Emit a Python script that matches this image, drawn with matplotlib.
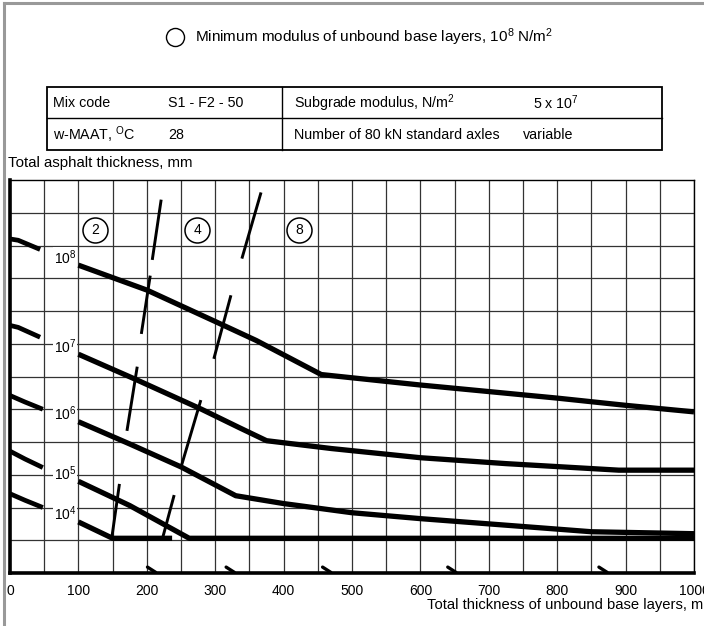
import numpy as np
import matplotlib.pyplot as plt
from matplotlib.patches import Rectangle

plt.rcParams['font.family'] = ['Liberation Sans', 'DejaVu Sans']
plt.rcParams['mathtext.fontset'] = 'custom'
plt.rcParams['mathtext.rm'] = 'Liberation Sans'
plt.rcParams['mathtext.it'] = 'Liberation Sans'

# -----------------------------
# Data (mm)
# -----------------------------
axle_labels = ["10$^8$", "10$^7$", "10$^6$", "10$^5$", "10$^4$"]

# base thickness -> asphalt thickness, one curve per number of axles
base_1e8 = [100, 200, 300, 360, 455, 600, 700, 800, 900, 1000]
asph_1e8 = [470, 432, 384, 355, 303, 287, 277, 267, 256, 246]
base_1e7 = [100, 185, 280, 335, 375, 470, 600, 725, 890, 1000]
asph_1e7 = [334, 295, 250, 222, 202, 190, 176, 167, 157, 157]
base_1e6 = [100, 175, 250, 330, 400, 500, 600, 725, 850, 1000]
asph_1e6 = [231, 197, 162, 118, 106, 92, 83, 73, 63, 60]
base_1e5 = [100, 175, 262, 1000]
asph_1e5 = [140, 103, 53, 53]
base_1e4 = [100, 150, 237]
asph_1e4 = [78, 53, 53]

curves_x = [base_1e8, base_1e7, base_1e6, base_1e5, base_1e4]
curves_y = [asph_1e8, asph_1e7, asph_1e6, asph_1e5, asph_1e4]

# stubs at the left edge (continuation from previous chart)
stub_x = [[0, 12, 44], [0, 12, 44], [0, 22, 48], [0, 22, 48], [0, 22, 48]]
stub_y = [[510, 508, 494], [378, 375, 360], [271, 261, 250],
          [186, 174, 161], [121, 111, 100]]

# minimum base modulus lines (2 and 4 x 10^8 N/m2), drawn in pieces
mod2_x = [[221, 208], [205, 192], [186, 171], [160, 149]]
mod2_y = [[570, 478], [454, 365], [315, 217], [136, 55]]
mod4_x = [[367, 339], [323, 298], [279, 251], [240, 223]]
mod4_y = [[581, 480], [424, 327], [264, 165], [119, 53]]

modulus_tags = ["2", "4", "8"]
modulus_tag_x = [124, 274, 423]
modulus_tag_y = [523, 523, 523]

hook_x = [207, 322, 463, 646, 867]

table_rows = [["Mix code", "S1 - F2 - 50", "Subgrade modulus, N/m$^2$", "5 x 10$^7$"],
              ["w-MAAT, $^{\\rm O}$C", "28", "Number of 80 kN standard axles", "variable"]]

# -----------------------------
# Figure
# -----------------------------
fig = plt.figure(figsize=(7.04, 6.26), dpi=100)

# overlay in pixel units for header, table and frame
ov = fig.add_axes([0, 0, 1, 1])
ov.set_xlim(0, 704)
ov.set_ylim(626, 0)
ov.axis("off")

ov.plot([4, 4], [3, 626], color="0.6", lw=2.2)
ov.plot([4, 704], [3, 3], color="0.6", lw=2.2)

ov.plot([175], [37], marker="o", ms=13, mfc="none", mec="black", mew=1.0)
ov.text(195, 37, "Minimum modulus of unbound base layers, 10$^8$ N/m$^2$",
        fontsize=11, va="center", ha="left")

ov.add_patch(Rectangle((47, 87), 615, 63, fill=False, lw=1.3, ec="black"))
ov.plot([47, 662], [118, 118], color="black", lw=1.0)
ov.plot([282, 282], [87, 150], color="black", lw=1.0)
col_x = [[53, 168, 294, 533], [53, 168, 294, 523]]
row_y = [103, 135]
for r, row in enumerate(table_rows):
    for c, txt in enumerate(row):
        ov.text(col_x[r][c], row_y[r], txt, fontsize=10.3, va="center", ha="left")

ov.text(8, 163, "Total asphalt thickness, mm", fontsize=10.8, va="center", ha="left")
ov.text(427, 605, "Total thickness of unbound base layers, mm", fontsize=10.6,
        va="center", ha="left")

# main chart
ax = fig.add_axes([10 / 704, 53 / 626, 684 / 704, 393 / 626])
ax.set_xlim(0, 1000)
ax.set_ylim(0, 600)

ax.set_xticks(np.arange(0, 1001, 100))
ax.set_xticks(np.arange(50, 1000, 100), minor=True)
ax.set_yticks(np.arange(50, 600, 50))
ax.set_yticklabels([])
ax.grid(True, which="both", color="0.2", lw=0.9)
ax.tick_params(which="both", length=0, labelsize=10, pad=8)
ax.set_axisbelow(True)

for side in ["left", "bottom"]:
    ax.spines[side].set_linewidth(2.6)
for side in ["top", "right"]:
    ax.spines[side].set_linewidth(1.0)

for xs, ys, lab in zip(curves_x, curves_y, axle_labels):
    ax.plot(xs, ys, color="black", lw=3.8, solid_capstyle="butt",
            solid_joinstyle="round", clip_on=False)
    ax.text(97, ys[0] + 12, lab, fontsize=10, ha="right", va="center",
            bbox=dict(fc="white", ec="none", pad=0.5))

for xs, ys in zip(stub_x, stub_y):
    ax.plot(xs, ys, color="black", lw=3.4, solid_capstyle="butt")

for xs, ys in zip(mod2_x + mod4_x, mod2_y + mod4_y):
    ax.plot(xs, ys, color="black", lw=2.1, solid_capstyle="butt")

for tag, tx, ty in zip(modulus_tags, modulus_tag_x, modulus_tag_y):
    ax.plot([tx], [ty], marker="o", ms=18, mfc="white", mec="black", mew=1.1)
    ax.text(tx, ty, tag, fontsize=10, ha="center", va="center")

for hx in hook_x:
    ax.plot([hx - 6, hx, hx + 6], [9, 5, 1], color="black", lw=2.4,
            solid_capstyle="round")

fig.savefig("out.png", dpi=100)
